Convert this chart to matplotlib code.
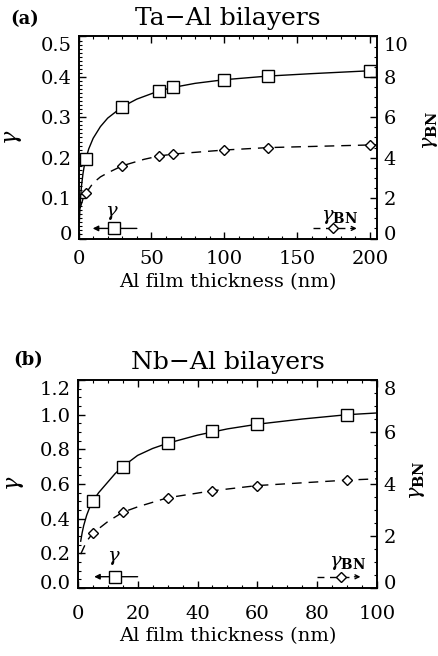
import matplotlib
matplotlib.use("Agg")
import matplotlib.pyplot as plt
import matplotlib.transforms as mtransforms
from matplotlib.ticker import MultipleLocator, FixedLocator

plt.rcParams["font.family"] = "DejaVu Serif"
plt.rcParams["mathtext.fontset"] = "dejavuserif"

# (a) Ta-Al bilayers
ta_d = [5, 30, 55, 65, 100, 130, 200]
ta_gamma = [0.196, 0.326, 0.365, 0.374, 0.393, 0.402, 0.415]
ta_gbn = [2.24, 3.6, 4.08, 4.18, 4.38, 4.5, 4.63]
# fit curves
ta_fit_d = [0.5, 1, 1.5, 2, 3, 4, 5, 7, 10, 15, 20, 30, 40, 55, 65, 80, 100, 130, 160, 205]
ta_fit_gamma = [0.04, 0.08, 0.108, 0.13, 0.16, 0.182, 0.198, 0.222, 0.248, 0.277, 0.298,
                0.326, 0.345, 0.365, 0.374, 0.384, 0.393, 0.402, 0.408, 0.416]
ta_fitbn_d = [1, 3, 5, 10, 15, 20, 30, 45, 55, 65, 100, 130, 205]
ta_fitbn = [1.5, 1.95, 2.24, 2.75, 3.05, 3.25, 3.6, 3.92, 4.08, 4.18, 4.38, 4.5, 4.64]

# (b) Nb-Al bilayers
nb_d = [5, 15, 30, 45, 60, 90]
nb_gamma = [0.5, 0.70, 0.835, 0.905, 0.945, 1.0]
nb_gbn = [2.1, 2.91, 3.47, 3.74, 3.94, 4.15]
nb_fit_d = [1, 1.5, 2, 3, 4, 5, 7, 10, 12.5, 15, 20, 25, 30, 40, 50, 60, 75, 90, 100]
nb_fit_gamma = [0.27, 0.32, 0.36, 0.42, 0.465, 0.50, 0.55, 0.61, 0.66, 0.70, 0.765, 0.805,
                0.835, 0.882, 0.918, 0.945, 0.975, 1.0, 1.01]
nb_fitbn_d = [1, 3, 5, 10, 15, 20, 30, 45, 60, 90, 100]
nb_fitbn = [1.3, 1.8, 2.1, 2.55, 2.91, 3.12, 3.47, 3.74, 3.94, 4.15, 4.2]

fig = plt.figure(figsize=(4.39, 6.56), dpi=100)


def shift_end_labels(a, lim):
    locs = list(a.get_yticks())
    ticks = a.yaxis.get_major_ticks(len(locs))
    for t, loc in zip(ticks, locs):
        dyp = 0
        if abs(loc - lim[0]) < 1e-9:
            dyp = 6
        elif abs(loc - lim[1]) < 1e-9:
            dyp = -8
        if dyp:
            for lab in (t.label1, t.label2):
                lab.set_transform(lab.get_transform() +
                                  mtransforms.ScaledTranslation(0, dyp / 100, fig.dpi_scale_trans))


def panel(rect, tag, title, d, g, gbn, fd, fg, fbd, fbn, xlim, xmaj, xmin,
          ylim, ymaj, ymin, yfmt, bnlim, bnmaj, key, xpad, title_pad,
          tag_pos, ylab_pos, bnlab_pos, xlab_y):
    ax = fig.add_axes(rect)
    ax2 = ax.twinx()

    ax.plot(fd, fg, "-", color="k", lw=1.0, zorder=2)
    ax.plot(d, g, "s", ms=9, mfc="white", mec="k", mew=1.0, zorder=3)
    ax2.plot(fbd, fbn, color="k", lw=1.0, dashes=(7, 5), zorder=2)
    ax2.plot(d, gbn, "D", ms=4.6, mfc="white", mec="k", mew=1.0, zorder=3)

    # keys inside the plot
    (sx, sy, a0, a1, tx, ty), (dx, dy, b0, b1, ux, uy) = key
    ax.plot([sx], [sy], "s", ms=9, mfc="white", mec="k", mew=1.0, zorder=4)
    ax.annotate("", xy=(a1, sy), xytext=(a0, sy),
                arrowprops=dict(arrowstyle="-|>", color="k", lw=1.0,
                                mutation_scale=8, shrinkA=0, shrinkB=0))
    ax.text(tx, ty, r"$\gamma$", ha="center", va="center", fontsize=14)
    ax2.plot([b0, b1 - 3 * (xlim[1] / 100)], [dy, dy], color="k", lw=1.0, dashes=(5, 4))
    ax2.plot([dx], [dy], "D", ms=4.6, mfc="white", mec="k", mew=1.0, zorder=4)
    ax2.annotate("", xy=(b1, dy), xytext=(b1 - 2 * (xlim[1] / 100), dy),
                 arrowprops=dict(arrowstyle="->", color="k", lw=1.0,
                                 mutation_scale=7, shrinkA=0, shrinkB=0))
    ax2.text(ux, uy, r"$\gamma_{\mathbf{BN}}$", ha="center", va="center", fontsize=14)

    ax.set_xlim(*xlim)
    ax.set_ylim(*ylim)
    ax2.set_ylim(*bnlim)
    ax.xaxis.set_major_locator(MultipleLocator(xmaj))
    ax.xaxis.set_minor_locator(MultipleLocator(xmin))
    ax.yaxis.set_major_locator(MultipleLocator(ymaj))
    ax.yaxis.set_minor_locator(MultipleLocator(ymin))
    ax.yaxis.set_major_formatter(yfmt)
    ax2.yaxis.set_major_locator(MultipleLocator(bnmaj))
    ax2.yaxis.set_minor_locator(MultipleLocator(bnmaj / 4))

    ax.tick_params(axis="x", which="both", direction="in", top=True, bottom=True,
                   labelsize=14, pad=xpad)
    ax.tick_params(axis="y", which="both", direction="in", left=True, right=False,
                   labelsize=14, pad=5)
    ax2.tick_params(axis="y", which="both", direction="in", labelsize=14, pad=4.5)
    for a in (ax, ax2):
        a.tick_params(which="major", length=5, width=1.0)
        a.tick_params(which="minor", length=2.5, width=0.8)
        for s in a.spines.values():
            s.set_linewidth(1.2)

    ax.set_title(title, fontsize=18, pad=title_pad)
    ax.text(tag_pos[0], tag_pos[1], tag, transform=ax.transAxes, fontsize=13,
            fontweight="bold", ha="left", va="center")
    ax.set_xlabel("Al film thickness (nm)", fontsize=14, va="top")
    ax.xaxis.set_label_coords(0.5, xlab_y)
    ax.set_ylabel(r"$\gamma$", fontsize=16, va="center")
    ax.yaxis.set_label_coords(*ylab_pos)
    ax2.set_ylabel(r"$\gamma_{\mathbf{BN}}$", fontsize=15, va="center", rotation=90)
    ax2.yaxis.set_label_coords(*bnlab_pos)

    # end labels sit inside the frame in the original
    shift_end_labels(ax, ylim)
    shift_end_labels(ax2, bnlim)
    return ax, ax2


panel([0.179, 0.6364, 0.680, 0.308], "(a)", "Ta\u2212Al bilayers",
      ta_d, ta_gamma, ta_gbn, ta_fit_d, ta_fit_gamma, ta_fitbn_d, ta_fitbn,
      (0, 205), 50, 10, (0, 0.5), 0.1, 0.01,
      matplotlib.ticker.FuncFormatter(lambda v, p: "0" if abs(v) < 1e-9 else f"{v:.1f}"),
      (0, 10), 2,
      ((24, 0.025, 40, 9.7, 23, 0.063), (175, 0.5, 161, 191, 179, 1.08)),
      8.5, 8, (-0.23, 1.087), (-0.22, 0.5), (1.178, 0.535), -0.171)

panel([0.177, 0.1037, 0.6823, 0.317], "(b)", "Nb\u2212Al bilayers",
      nb_d, nb_gamma, nb_gbn, nb_fit_d, nb_fit_gamma, nb_fitbn_d, nb_fitbn,
      (0, 100), 20, 5, (0, 1.2), 0.2, 0.05,
      matplotlib.ticker.FormatStrFormatter("%.1f"),
      (0, 8), 2,
      ((12.5, 0.065, 20, 5.5, 12.2, 0.171), (87.8, 0.43, 80, 94.4, 90, 0.95)),
      12.5, 7.7, (-0.215, 1.096), (-0.21, 0.503), (1.134, 0.52), -0.186)

fig.savefig("out.png", dpi=100)
